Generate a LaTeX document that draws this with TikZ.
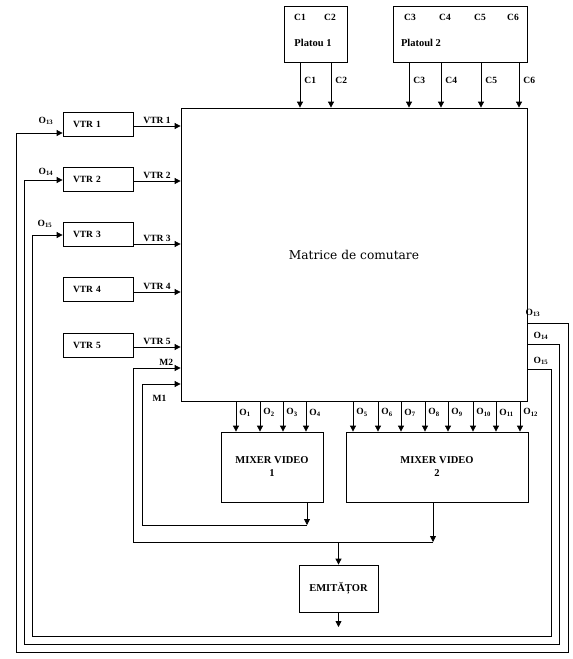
\documentclass[tikz,border=0pt]{standalone}
\usepackage{fontspec}
\setmainfont{Liberation Serif}
\newfontfamily\titlefont{DejaVu Serif}
\usetikzlibrary{arrows.meta}

\begin{document}
\begin{tikzpicture}[
  x=1pt, y=-1pt, line width=0.8pt,
  box/.style={draw, line width=0.8pt, inner sep=0pt, align=center},
  vtr/.style={box, minimum width=70pt, minimum height=24pt, inner xsep=10pt,
              text width=50pt, align=left, font=\fontsize{9.5}{11}\selectfont\bfseries},
  lbl/.style={inner sep=1pt, font=\fontsize{9.5}{11}\selectfont\bfseries},
  big/.style={font=\fontsize{10.5}{13}\selectfont\bfseries},
  arr/.style={-{Triangle[length=6pt,width=6pt]}},
]
\useasboundingbox (0,0) rectangle (573,659);

% columns: vtr 98 / matrix 181..527 / mixers 272, 437 / emitter 338.5
% rows:    studios 34 / matrix 108..401 / mixers 467 / emitter 588.5
\node[box, minimum width=346pt, minimum height=293pt,
      font=\titlefont\fontsize{12.2}{14}\selectfont] (mat) at (354,254.5) {Matrice de comutare};

\node[box, minimum width=63pt,  minimum height=56pt] (p1) at (315.5,34) {};
\node[box, minimum width=134pt, minimum height=56pt] (p2) at (460,34) {};
\node[lbl, big] (p1t) at (313,43) {Platou 1};
\node[lbl, big] (p2t) at (421,43) {Platoul 2};
\foreach \x/\c in {300/1,330/2,410/3,445/4,480/5,513/6}
  \node[lbl] (in\c) at (\x,17) {C\c};

\foreach \i/\y in {1/124,2/179,3/234,4/289.5,5/345}
  \node[vtr] (vtr\i) at (98,\y) {VTR \i};

\node[box, big, minimum width=102pt, minimum height=70pt] (mix1) at (272,467) {MIXER VIDEO\\1};
\node[box, big, minimum width=182pt, minimum height=70pt] (mix2) at (437,467) {MIXER VIDEO\\2};
\node[box, big, minimum width=79pt,  minimum height=47pt] (emit) at (338.5,588.5) {EMITĂȚOR};

% ----- studio cameras into the matrix -----------------------------------
\foreach \x/\c/\src in {300/1/p1,331/2/p1,409/3/p2,441/4/p2,481/5/p2,519/6/p2}
  \draw[arr] (\src.south -| \x,0) -- (mat.north -| \x,0)
    node[lbl, pos=0.4, right=3pt] (c\c) {C\c};

% ----- recorders into the matrix ----------------------------------------
\foreach \i/\dy in {1/2,2/2,3/10,4/2.5,5/2}
  \draw[arr] ([yshift=-\dy]vtr\i.east) -- ([yshift=-\dy]vtr\i.east -| mat.west)
    node[lbl, midway, above=1pt] (lv\i) {VTR \i};

% ----- matrix outputs to the mixers -------------------------------------
\foreach \x/\k in {236/1,260/2,283/3,306/4}
  \draw[arr] (mat.south -| \x,0) -- (mix1.north -| \x,0)
    node[lbl, midway, right=2pt, yshift=4] (o\k) {O\textsubscript{\k}};
\foreach \x/\k in {353/5,378/6,401/7,425/8,448/9,473/10,496/11,520/12}
  \draw[arr] (mat.south -| \x,0) -- (mix2.north -| \x,0)
    node[lbl, midway, right=2pt, yshift=4] (o\k) {O\textsubscript{\k}};

% ----- mixers back into the matrix and on to the emitter ----------------
\coordinate (j1) at (307,525);
\coordinate (k1) at (142,525);
\coordinate (j2) at (433,542);
\coordinate (k2) at (133,542);
\coordinate (tx) at (338.5,627);
\draw[arr] (mix1.south -| j1) -- (j1);
\draw[arr] (j1) -- (k1) |- (mat.west |- 0,384);
\draw[arr] (mix2.south -| j2) -- (j2);
\draw[arr] (j2) -- (k2) |- (mat.west |- 0,368) node[lbl, pos=0.85, above=1pt] (m2) {M2};
\node[lbl] (m1) at (159.5,398) {M1};
\draw[arr] (emit.north |- j2) -- (emit.north);
\draw[arr] (emit.south) -- (tx);

% ----- matrix outputs fed back to the recorders -------------------------
\coordinate (r13) at (568,652);
\coordinate (l13) at (16,652);
\coordinate (r14) at (559,644);
\coordinate (l14) at (24,644);
\coordinate (r15) at (551,636);
\coordinate (l15) at (32,636);
\draw[arr] (mat.east |- 0,323) -| (r13) -- (l13) |- ([yshift=-9]vtr1.west);
\draw[arr] (mat.east |- 0,344) -| (r14) -- (l14) |- ([yshift=-1]vtr2.west);
\draw[arr] (mat.east |- 0,369) -| (r15) -- (l15) |- ([yshift=-1]vtr3.west);
\node[lbl] (r13t) at (533,313) {O\textsubscript{13}};
\node[lbl] (r14t) at (541,336) {O\textsubscript{14}};
\node[lbl] (r15t) at (541,361) {O\textsubscript{15}};
\node[lbl] (l13t) at (46,121) {O\textsubscript{13}};
\node[lbl] (l14t) at (46,172) {O\textsubscript{14}};
\node[lbl] (l15t) at (45,224) {O\textsubscript{15}};

\end{tikzpicture}
\end{document}
